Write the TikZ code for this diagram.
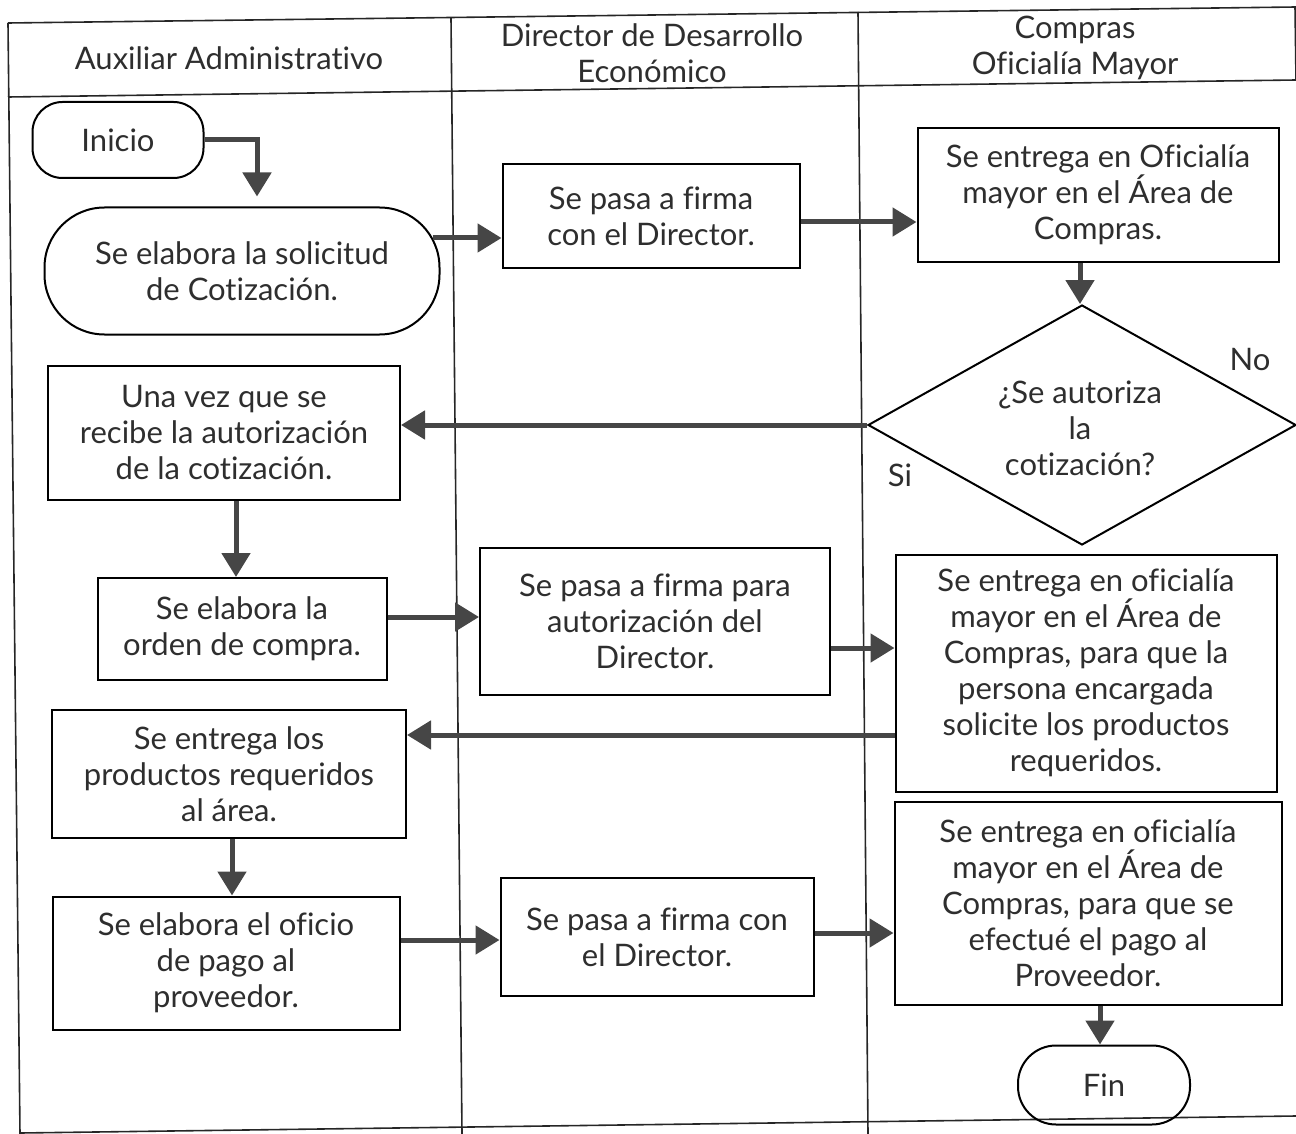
\documentclass[tikz,border=0pt]{standalone}
\usepackage{fontspec}
\setmainfont{Lato}[Ligatures=NoCommon]
\usetikzlibrary{shapes.geometric,arrows.meta,calc}
\definecolor{ink}{HTML}{2E2E2E}
\definecolor{arrowgray}{HTML}{464646}

\begin{document}
\begin{tikzpicture}[x=1pt,y=-1pt,
  txt/.style={font=\fontsize{31}{36}\selectfont, text=ink, align=center},
  box/.style={txt, draw=black, line width=2pt, inner sep=0pt},
  term/.style={box, rounded corners=30pt},
  decision/.style={txt, diamond, draw=black, line width=2pt, inner sep=0pt,
                   aspect=1.78, minimum width=428pt, minimum height=240pt},
  arr/.style={draw=arrowgray, line width=5pt, -{Triangle[length=24pt,width=28pt]}},
  frameline/.style={draw=black!85, line width=1.6pt}]

\useasboundingbox (0,0) rectangle (1296,1134);

% swimlane frame
\draw[frameline] (8,23) -- (1296,7);
\draw[frameline] (8,97) -- (1296,80);
\draw[frameline] (8,23) -- (20,1134);
\draw[frameline] (451,18) -- (462,1134);
\draw[frameline] (858,12) -- (868,1134);
\draw[frameline] (20,1133) -- (1296,1116);
\draw[frameline] (1295,7) -- (1296,80);

% lane headings
\node[txt] (h1) at (229,58) {Auxiliar Administrativo};
\node[txt] (h2) at (652,53) {Director de Desarrollo\\Económico};
\node[txt] (h3) at (1075,48) {Compras\\Oficialía Mayor};

% steps
\node[term, minimum width=171pt, minimum height=76pt] (ini) at (118,140) {Inicio};
\node[box, rounded corners=60pt, minimum width=395pt, minimum height=127pt] (sol) at (242,271)
  {Se elabora la solicitud\\de Cotización.};
\node[box, minimum width=297pt, minimum height=103pt] (f1) at (651,216)
  {Se pasa a firma\\con el Director.};
\node[box, minimum width=361pt, minimum height=134pt] (e1) at (1098,195)
  {Se entrega en Oficialía\\mayor en el Área de\\Compras.};
\node[decision] (d) at (1082,425) {};
\node[txt] (dq) at (1080,428) {¿Se autoriza\\la\\cotización?};
\node[txt] (no) at (1250,360) {No};
\node[txt] (si) at (900,475) {Si};

\node[box, minimum width=352pt, minimum height=134pt] (una) at (224,433)
  {Una vez que se\\recibe la autorización\\de la cotización.};
\node[box, minimum width=289pt, minimum height=102pt] (ord) at (242,629)
  {Se elabora la\\orden de compra.};
\node[box, minimum width=350pt, minimum height=147pt] (f2) at (655,621)
  {Se pasa a firma para\\autorización del\\Director.};
\node[box, minimum width=381pt, minimum height=237pt] (e2) at (1086,673)
  {Se entrega en oficialía\\mayor en el Área de\\Compras, para que la\\persona encargada\\solicite los productos\\requeridos.};
\node[box, minimum width=354pt, minimum height=128pt] (prod) at (229,774)
  {Se entrega los\\productos requeridos\\al área.};
\node[box, minimum width=347pt, minimum height=133pt] (ofi) at (226,963)
  {Se elabora el oficio\\de pago al\\proveedor.};
\node[box, minimum width=313pt, minimum height=118pt] (f3) at (657,937)
  {Se pasa a firma con\\el Director.};
\node[box, minimum width=387pt, minimum height=203pt] (e3) at (1088,903)
  {Se entrega en oficialía\\mayor en el Área de\\Compras, para que se\\efectué el pago al\\Proveedor.};
\node[term, rounded corners=38pt, minimum width=172pt, minimum height=79pt] (fin) at (1104,1085) {Fin};

% guide coordinates for connector positions
\coordinate (x1) at (257,0);
\coordinate (y2) at (0,238);
\coordinate (y3) at (0,222);
\coordinate (x4) at (1080,0);
\coordinate (x6) at (236,0);
\coordinate (y7) at (0,617);
\coordinate (y8) at (0,648);
\coordinate (y9) at (0,735);
\coordinate (x10) at (232,0);
\coordinate (y11) at (0,940);
\coordinate (y12) at (0,933);
\coordinate (x13) at (1100,0);

% connectors
\draw[arr, shorten >=10pt] (ini.east) -| (x1 |- sol.north);
\draw[arr] ($(sol.east |- y2)+(-8,0)$) -- (f1.west |- y2);
\draw[arr] (f1.east |- y3) -- (e1.west |- y3);
\draw[arr] (x4 |- e1.south) -- (x4 |- d.north);
\draw[arr] (d.west) -- (d.west -| una.east);
\draw[arr] (x6 |- una.south) -- (x6 |- ord.north);
\draw[arr] (ord.east |- y7) -- (f2.west |- y7);
\draw[arr] (f2.east |- y8) -- (e2.west |- y8);
\draw[arr] (e2.west |- y9) -- (prod.east |- y9);
\draw[arr] (x10 |- prod.south) -- (x10 |- ofi.north);
\draw[arr] (ofi.east |- y11) -- (f3.west |- y11);
\draw[arr] (f3.east |- y12) -- (e3.west |- y12);
\draw[arr] (x13 |- e3.south) -- (x13 |- fin.north);

\end{tikzpicture}
\end{document}
